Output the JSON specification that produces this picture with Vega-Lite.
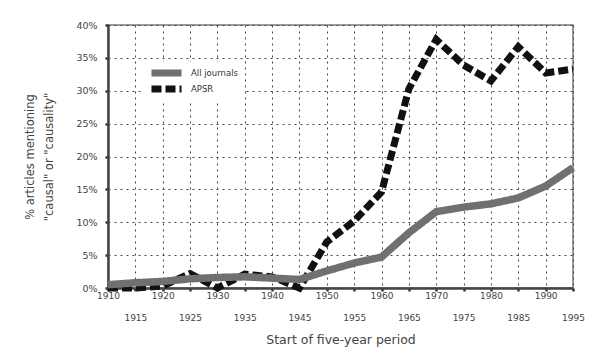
{
  "$schema": "https://vega.github.io/schema/vega-lite/v6.json",
  "width": 465,
  "height": 263,
  "autosize": {"type": "none"},
  "padding": {"left": 108, "top": 25, "right": 24, "bottom": 68},
  "background": "white",
  "config": {
    "font": "DejaVu Sans",
    "view": {"stroke": "#7a7a7a", "strokeWidth": 1.5},
    "axis": {
      "domainColor": "#444",
      "domainWidth": 2.5,
      "tickColor": "#333",
      "tickSize": 3,
      "tickWidth": 2.5,
      "gridColor": "#444",
      "gridDash": [2, 4],
      "gridWidth": 1,
      "labelColor": "#444",
      "labelFont": "DejaVu Sans",
      "titleFont": "DejaVu Sans",
      "titleColor": "#444",
      "titleFontWeight": "normal"
    },
    "legend": {
      "title": null,
      "orient": "none",
      "legendX": 36,
      "legendY": 37,
      "fillColor": "white",
      "padding": 6,
      "symbolType": "M-3,0H3",
      "symbolSize": 100,
      "symbolStrokeWidth": 7,
      "symbolOffset": 8,
      "clipHeight": 10,
      "labelFontSize": 8.5,
      "labelColor": "#333",
      "rowPadding": 6,
      "labelOffset": 16
    }
  },
  "data": {
    "values": [
      {"period": "1910", "series": "All journals", "pct": 0.5},
      {"period": "1915", "series": "All journals", "pct": 0.8},
      {"period": "1920", "series": "All journals", "pct": 1.0},
      {"period": "1925", "series": "All journals", "pct": 1.4},
      {"period": "1930", "series": "All journals", "pct": 1.6},
      {"period": "1935", "series": "All journals", "pct": 1.7},
      {"period": "1940", "series": "All journals", "pct": 1.5},
      {"period": "1945", "series": "All journals", "pct": 1.3},
      {"period": "1950", "series": "All journals", "pct": 2.6},
      {"period": "1955", "series": "All journals", "pct": 3.8},
      {"period": "1960", "series": "All journals", "pct": 4.7},
      {"period": "1965", "series": "All journals", "pct": 8.4},
      {"period": "1970", "series": "All journals", "pct": 11.6},
      {"period": "1975", "series": "All journals", "pct": 12.3},
      {"period": "1980", "series": "All journals", "pct": 12.8},
      {"period": "1985", "series": "All journals", "pct": 13.7},
      {"period": "1990", "series": "All journals", "pct": 15.5},
      {"period": "1995", "series": "All journals", "pct": 18.3},
      {"period": "1910", "series": "APSR", "pct": 0.0},
      {"period": "1915", "series": "APSR", "pct": 0.0},
      {"period": "1920", "series": "APSR", "pct": 0.3},
      {"period": "1925", "series": "APSR", "pct": 2.2},
      {"period": "1930", "series": "APSR", "pct": 0.0},
      {"period": "1935", "series": "APSR", "pct": 2.1},
      {"period": "1940", "series": "APSR", "pct": 1.7},
      {"period": "1945", "series": "APSR", "pct": 0.0},
      {"period": "1950", "series": "APSR", "pct": 7.0},
      {"period": "1955", "series": "APSR", "pct": 10.2},
      {"period": "1960", "series": "APSR", "pct": 14.6},
      {"period": "1965", "series": "APSR", "pct": 30.3},
      {"period": "1970", "series": "APSR", "pct": 37.8},
      {"period": "1975", "series": "APSR", "pct": 33.9},
      {"period": "1980", "series": "APSR", "pct": 31.5},
      {"period": "1985", "series": "APSR", "pct": 36.7},
      {"period": "1990", "series": "APSR", "pct": 32.7},
      {"period": "1995", "series": "APSR", "pct": 33.3}
    ]
  },
  "encoding": {
    "x": {
      "field": "period",
      "type": "ordinal",
      "sort": null,
      "scale": {"type": "point", "padding": 0},
      "axis": {
        "title": "Start of five-year period",
        "titleFontSize": 12.5,
        "titlePadding": 11,
        "labelAngle": 0,
        "labelFontSize": 9,
        "labelPadding": 0,
        "labelLineHeight": 22,
        "labelOverlap": false,
        "labelFlush": false,
        "labelExpr": "toNumber(datum.value) % 10 == 5 ? ['', datum.label] : datum.label",
        "grid": true
      }
    },
    "y": {
      "field": "pct",
      "type": "quantitative",
      "scale": {"domain": [0, 40], "nice": false},
      "axis": {
        "values": [0, 5, 10, 15, 20, 25, 30, 35, 40],
        "labelExpr": "datum.value + '%'",
        "labelFontSize": 9.5,
        "labelPadding": 8,
        "title": ["% articles mentioning", "\"causal\" or \"causality\""],
        "titleFontSize": 11.5,
        "titleLineHeight": 19,
        "titlePadding": 21,
        "grid": true
      }
    },
    "color": {
      "field": "series",
      "type": "nominal",
      "scale": {"domain": ["All journals", "APSR"], "range": ["#707070", "#111111"]}
    },
    "strokeDash": {
      "field": "series",
      "type": "nominal",
      "scale": {"domain": ["All journals", "APSR"], "range": [[1, 0], [10, 4]]}
    }
  },
  "layer": [
    {
      "transform": [{"filter": "datum.series == 'APSR'"}],
      "mark": {"type": "line", "strokeWidth": 7, "strokeCap": "butt", "strokeJoin": "miter"}
    },
    {
      "transform": [{"filter": "datum.series == 'All journals'"}],
      "mark": {"type": "line", "strokeWidth": 7.5, "strokeCap": "butt", "strokeJoin": "round"}
    }
  ]
}
